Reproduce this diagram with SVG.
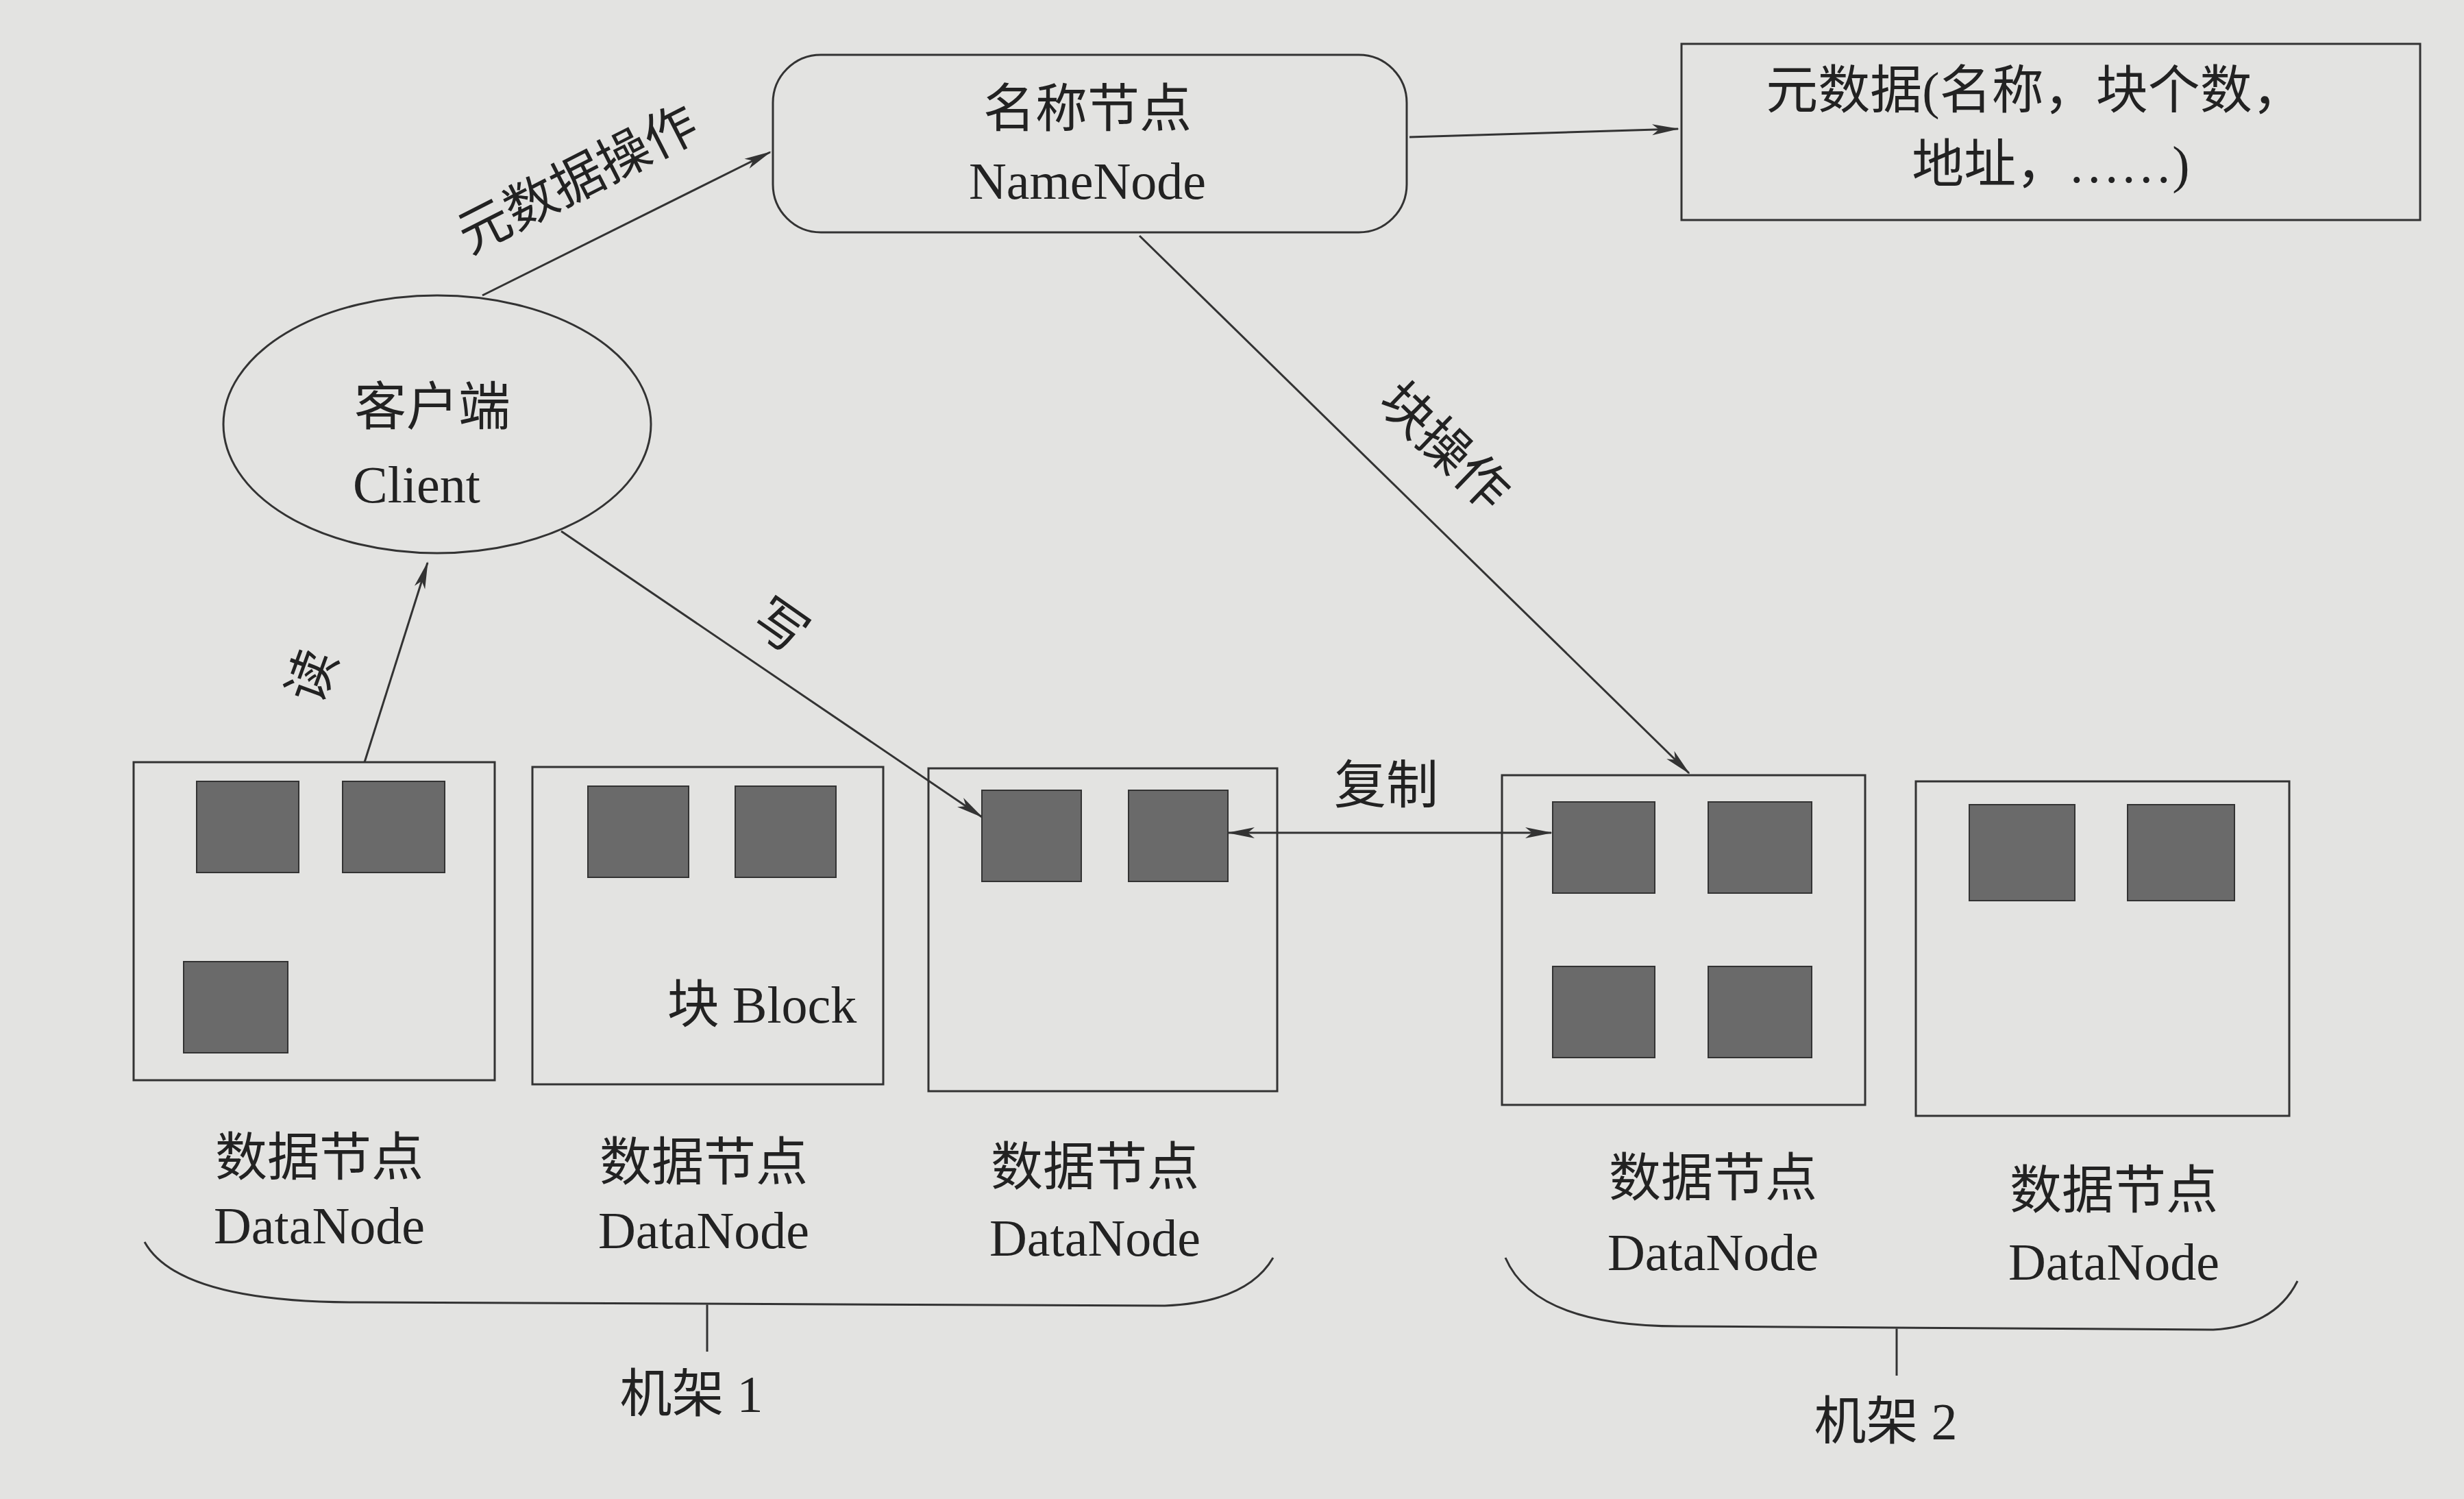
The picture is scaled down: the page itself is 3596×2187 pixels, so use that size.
<svg xmlns="http://www.w3.org/2000/svg" width="3596" height="2187" viewBox="0 0 3596 2187">
<defs>
<marker id="ah" markerWidth="40" markerHeight="20" refX="38" refY="10" orient="auto" markerUnits="userSpaceOnUse"><path d="M0,2 L40,10 L0,18 L10,10 Z" fill="#333"/></marker>
<marker id="ahs" markerWidth="40" markerHeight="20" refX="2" refY="10" orient="auto" markerUnits="userSpaceOnUse"><path d="M40,2 L0,10 L40,18 L30,10 Z" fill="#333"/></marker>
</defs>
<style>
.box{fill:none;stroke:#333;stroke-width:3}
.blk{fill:#6a6a6a;stroke:#333;stroke-width:2}
.t{font-family:"Liberation Serif","Noto Sans CJK SC",serif;font-size:76px;fill:#222;text-anchor:middle}
.ln{stroke:#333;stroke-width:3;fill:none}
</style>
<rect width="3596" height="2187" fill="#e3e3e1"/>
<g id="connectors">
<line class="ln" x1="2057" y1="200" x2="2449" y2="188" marker-end="url(#ah)"/>
<line class="ln" x1="704" y1="431" x2="1124" y2="222" marker-end="url(#ah)"/>
<line class="ln" x1="1663" y1="344" x2="2465" y2="1128" marker-end="url(#ah)"/>
<line class="ln" x1="532" y1="1112" x2="624" y2="821" marker-end="url(#ah)"/>
<line class="ln" x1="819" y1="775" x2="1433" y2="1192" marker-end="url(#ah)"/>
<line class="ln" x1="1793" y1="1215" x2="2264" y2="1215" marker-start="url(#ahs)" marker-end="url(#ah)"/>
<text class="t" transform="translate(855,285) rotate(-27)">元数据操作</text>
<text class="t" transform="translate(2090,670) rotate(44)">块操作</text>
<text class="t" transform="translate(480,995) rotate(-70)">读</text>
<text class="t" transform="translate(1124,935) rotate(35)">写</text>
<text class="t" x="2023" y="1172">复制</text>
</g>
<g id="namenode"><rect class="box" x="1128" y="80" width="925" height="259" rx="70"/>
<text class="t" x="1587" y="185">名称节点</text><text class="t" x="1587" y="290">NameNode</text></g>
<g id="metadata"><rect class="box" x="2454" y="64" width="1078" height="257"/>
<text class="t" x="2970" y="158">元数据(名称，块个数，</text><text class="t" x="2993" y="266">地址，……)</text></g>
<g id="client"><ellipse class="box" cx="638" cy="619" rx="312" ry="188"/>
<text class="t" x="631" y="620">客户端</text><text class="t" x="608" y="733">Client</text></g>
<g id="dn1"><rect class="box" x="195" y="1112" width="527" height="464"/>
<rect class="blk" x="287" y="1140" width="149" height="133"/><rect class="blk" x="500" y="1140" width="149" height="133"/><rect class="blk" x="268" y="1403" width="152" height="133"/>
<text class="t" x="466" y="1715">数据节点</text><text class="t" x="466" y="1814">DataNode</text></g>
<g id="dn2"><rect class="box" x="777" y="1119" width="512" height="463"/>
<rect class="blk" x="858" y="1147" width="147" height="133"/><rect class="blk" x="1073" y="1147" width="147" height="133"/>
<text class="t" x="1112" y="1492">块 Block</text>
<text class="t" x="1027" y="1722">数据节点</text><text class="t" x="1027" y="1821">DataNode</text></g>
<g id="dn3"><rect class="box" x="1355" y="1121" width="509" height="471"/>
<rect class="blk" x="1433" y="1153" width="145" height="133"/><rect class="blk" x="1647" y="1153" width="145" height="133"/>
<text class="t" x="1598" y="1729">数据节点</text><text class="t" x="1598" y="1832">DataNode</text></g>
<g id="dn4"><rect class="box" x="2192" y="1131" width="530" height="481"/>
<rect class="blk" x="2266" y="1170" width="149" height="133"/><rect class="blk" x="2493" y="1170" width="151" height="133"/>
<rect class="blk" x="2266" y="1410" width="149" height="133"/><rect class="blk" x="2493" y="1410" width="151" height="133"/>
<text class="t" x="2500" y="1745">数据节点</text><text class="t" x="2500" y="1853">DataNode</text></g>
<g id="dn5"><rect class="box" x="2796" y="1140" width="545" height="488"/>
<rect class="blk" x="2874" y="1174" width="154" height="140"/><rect class="blk" x="3105" y="1174" width="156" height="140"/>
<text class="t" x="3085" y="1763">数据节点</text><text class="t" x="3085" y="1867">DataNode</text></g>
<g id="rack1"><path class="ln" d="M211,1812 Q260,1900 520,1900 L1700,1905 Q1820,1900 1858,1835 M1032,1903 L1032,1972"/>
<text class="t" x="1009" y="2060">机架 1</text></g>
<g id="rack2"><path class="ln" d="M2197,1835 Q2240,1935 2450,1935 L3230,1940 Q3320,1935 3353,1869 M2768,1938 L2768,2007"/>
<text class="t" x="2752" y="2100">机架 2</text></g>
</svg>
